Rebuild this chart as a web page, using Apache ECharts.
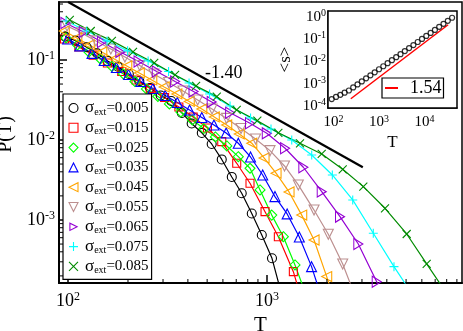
<!DOCTYPE html>
<html>
<head>
<meta charset="utf-8">
<script src="https://cdn.jsdelivr.net/npm/echarts@6/dist/echarts.min.js"></script>
<style>
  html, body { margin: 0; padding: 0; background: #fff; }
  #chart { width: 463px; height: 331px; }
</style>
</head>
<body>
<div id="chart"></div>
<script>
// sigma_ext values and their colours
var sigmas = ["0.005", "0.015", "0.025", "0.035", "0.045", "0.055", "0.065", "0.075", "0.085"];
var seriesColors = ["#000000", "#ff0000", "#00ff00", "#0000ff", "#ffa500", "#bc8f8f", "#9400d3", "#00ffff", "#008b00"];

// P(T) for each sigma_ext (T values, P values)
var t005 = [96.6, 109, 124, 140, 158, 178, 202, 228, 258, 292, 330, 373, 418, 470, 527, 592, 665, 746, 838, 941, 1059, 1190];
var p005 = [0.1955, 0.1743, 0.1441, 0.1213, 0.0972, 0.0824, 0.0668, 0.0546, 0.0447, 0.0360, 0.0307, 0.0218, 0.01608, 0.01224, 0.00891, 0.00571, 0.00345, 0.002157, 0.001206, 0.000649, 0.000332, 0.000112];

var t015 = [95.9, 113.2, 133.6, 157.6, 186, 219.4, 258.8, 305.5, 360.4, 425.3, 501.8, 592, 704, 821, 977, 1140, 1356, 1600];
var p015 = [0.183, 0.145, 0.115, 0.0917, 0.0718, 0.0562, 0.0440, 0.0340, 0.0258, 0.0194, 0.0141, 0.00952, 0.00511, 0.00288, 0.00127, 0.000618, 0.000226, 0.0000562];

var t025 = [97.5, 111.4, 127.2, 145.3, 166, 189.6, 216.6, 247.4, 282.7, 322.9, 368.8, 421, 481, 550, 628, 717, 821, 922, 1056, 1208, 1382, 1579];
var p025 = [0.188, 0.154, 0.126, 0.103, 0.0830, 0.0668, 0.0538, 0.0434, 0.0350, 0.0282, 0.0224, 0.0178, 0.0139, 0.0109, 0.00841, 0.00618, 0.00443, 0.00237, 0.00115, 0.000618, 0.000274, 0.000112];

var t035 = [99.4, 114.5, 131.9, 151.8, 174.9, 201.4, 232, 267, 307.6, 354, 408, 470, 541, 623, 717, 826, 951, 1096, 1262, 1453, 1674, 1927];
var p035 = [0.183, 0.150, 0.121, 0.0986, 0.0806, 0.0659, 0.0538, 0.0440, 0.0360, 0.0294, 0.0237, 0.0191, 0.0154, 0.0122, 0.00910, 0.00613, 0.00365, 0.00196, 0.00119, 0.000613, 0.000261, 0.0000891];

var t045 = [95.7, 110.6, 127.8, 147.7, 170.7, 197.2, 228, 263.4, 304, 352, 406.5, 470, 543, 627, 725, 838, 966, 1110, 1290, 1494, 1723, 1995, 2300];
var p045 = [0.230, 0.188, 0.154, 0.126, 0.103, 0.0841, 0.0688, 0.0562, 0.0460, 0.0376, 0.0303, 0.0244, 0.0194, 0.0154, 0.0119, 0.00910, 0.00596, 0.00384, 0.00224, 0.00115, 0.000562, 0.000196, 0.0000668];

var t055 = [98.8, 116.9, 138, 164, 193, 229, 270, 320, 378, 448, 529, 626, 740, 876, 1035, 1224, 1436, 1723, 2032, 2401, 2833];
var p055 = [0.266, 0.218, 0.173, 0.137, 0.109, 0.0854, 0.0668, 0.0523, 0.0410, 0.0316, 0.0244, 0.0186, 0.0139, 0.0103, 0.00735, 0.00473, 0.00274, 0.00133, 0.000663, 0.000282, 0.0000972];

var t065 = [96.9, 119.8, 148, 183, 226, 279, 345, 427, 527, 652, 821, 997, 1232, 1522, 1883, 2327, 2876, 3558, 4397];
var p065 = [0.290, 0.224, 0.168, 0.126, 0.0958, 0.0718, 0.0538, 0.0404, 0.0299, 0.0219, 0.0162, 0.0121, 0.00787, 0.00456, 0.00226, 0.00110, 0.000501, 0.000169, 0.0000422];

var t075 = [97.7, 123.9, 157, 199.1, 252.5, 319.9, 405.5, 514.1, 651.8, 826.3, 1047, 1331, 1677, 2129, 2696, 3421, 4346, 5512];
var p075 = [0.307, 0.230, 0.173, 0.130, 0.0972, 0.0718, 0.0516, 0.0376, 0.0266, 0.0188, 0.0137, 0.0100, 0.00649, 0.00365, 0.00178, 0.000682, 0.000261, 0.000107];

var t085 = [102, 130, 166, 212, 271, 345, 440, 559, 704, 894, 1140, 1465, 1883, 2401, 3048, 3917, 5035, 6346, 8027];
var p085 = [0.316, 0.230, 0.173, 0.126, 0.0917, 0.0649, 0.0473, 0.0348, 0.0237, 0.0174, 0.0123, 0.00909, 0.00668, 0.00430, 0.00261, 0.00140, 0.000668, 0.000282, 0.000119];

// guide line, slope -1.40
var tRef = [100, 3030];
var pRef = [0.53, 0.00455];

// inset: <s> versus T, and the 1.54 fit
var tInset = [91.3, 113.5, 141.1, 175.4, 218, 271, 336.9, 418.8, 520.6, 647.2, 804.5, 1000, 1243, 1545, 1921, 2388, 2968, 3690, 4587, 5702, 7088, 8811, 10950, 13620, 16930, 21030, 26150, 32500, 40400];
var sInset = [0.000209, 0.000260, 0.000324, 0.000404, 0.000504, 0.000688, 0.000940, 0.001285, 0.001755, 0.00240, 0.00328, 0.00448, 0.00612, 0.00836, 0.01142, 0.0156, 0.0213, 0.0291, 0.0398, 0.0544, 0.0743, 0.1016, 0.1387, 0.1896, 0.259, 0.354, 0.483, 0.661, 0.903];
var tFit = [240, 33000];
var sFit = [0.000215, 0.44];

// minor tick positions
var mainMinorT = [200, 300, 400, 500, 600, 700, 800, 900, 2000, 3000, 4000, 5000, 6000, 7000, 8000, 9000];
var mainMinorP = [0.0002, 0.0003, 0.0004, 0.0005, 0.0006, 0.0007, 0.0008, 0.0009,
                  0.002, 0.003, 0.004, 0.005, 0.006, 0.007, 0.008, 0.009,
                  0.02, 0.03, 0.04, 0.05, 0.06, 0.07, 0.08, 0.09, 0.2, 0.3, 0.4, 0.5];
var insetMinorT = [80, 90, 200, 300, 400, 500, 600, 700, 800, 900, 2000, 3000, 4000, 5000, 6000, 7000, 8000, 9000,
                   20000, 30000, 40000, 50000];
var insetMinorS = [0.00009, 0.0002, 0.0003, 0.0004, 0.0005, 0.0006, 0.0007, 0.0008, 0.0009,
                   0.002, 0.003, 0.004, 0.005, 0.006, 0.007, 0.008, 0.009,
                   0.02, 0.03, 0.04, 0.05, 0.06, 0.07, 0.08, 0.09,
                   0.2, 0.3, 0.4, 0.5, 0.6, 0.7, 0.8, 0.9];

var mainT = [t005, t015, t025, t035, t045, t055, t065, t075, t085];
var mainP = [p005, p015, p025, p035, p045, p055, p065, p075, p085];
var seriesSymbols = ["circle", "rect", "diamond", "triangle",
  "path://M0,5L10,0L10,10Z", "path://M0,0L10,0L5,10Z", "triangle",
  "path://M5,0L5,10M0,5L10,5", "path://M0,0L10,10M10,0L0,10"];
var symbolRotations = [0, 0, 0, 0, 0, 0, -90, 0, 0];
var symbolSizes = [9, 8, 10, 10, 10, 10, [11, 9], 9, 8];

var serif = "'Liberation Serif', 'DejaVu Serif', serif";
var axisRanges = [
  { xMin: 90, xMax: 9550, yMin: 0.000163, yMax: 0.53 },
  { xMin: 75.7, xMax: 51800, yMin: 0.000083, yMax: 1.81 }
];

var myChart = echarts.init(document.getElementById("chart"), null, { renderer: "canvas" });

function powLabel(v) {
  var l = Math.log10(v);
  var e = Math.round(l);
  if (Math.abs(l - e) > 1e-6) return "";
  return "{b|10}{s|" + e + "}";
}

function labelRich(big, small, lift) {
  return {
    b: { fontSize: big, fontFamily: serif, color: "#000" },
    s: { fontSize: small, fontFamily: serif, color: "#000", padding: [0, 0, lift, 0] }
  };
}

function pairs(xs, ys) {
  return xs.map(function (x, k) { return [x, ys[k]]; });
}

// draws minor ticks through the axis scales
function minorTicks(gi, dir, values, len) {
  var r = axisRanges[gi];
  var data = values.map(function (v) { return dir === "x" ? [v, r.yMin] : [r.xMin, v]; });
  return {
    type: "custom",
    xAxisIndex: gi,
    yAxisIndex: gi,
    silent: true,
    clip: false,
    z: 6,
    data: data,
    renderItem: function (params, api) {
      var p = api.coord([api.value(0), api.value(1)]);
      var q = dir === "x" ? [p[0], p[1] - len] : [p[0] + len, p[1]];
      return {
        type: "line",
        shape: { x1: p[0], y1: p[1], x2: q[0], y2: q[1] },
        style: { stroke: "#000", lineWidth: 1 }
      };
    }
  };
}

function makeAxis(gi, dir, opts) {
  var r = axisRanges[gi];
  return {
    type: "log",
    logBase: 10,
    gridIndex: gi,
    min: dir === "x" ? r.xMin : r.yMin,
    max: dir === "x" ? r.xMax : r.yMax,
    axisLine: { show: true, onZero: false, lineStyle: { color: "#000", width: opts.lineWidth } },
    axisTick: { show: true, inside: true, length: opts.tick, lineStyle: { color: "#000", width: 1.5 } },
    minorTick: { show: false },
    splitLine: { show: false },
    axisLabel: {
      formatter: powLabel,
      margin: opts.margin,
      showMinLabel: false,
      showMaxLabel: false,
      rich: labelRich(opts.font, opts.sup, opts.lift)
    },
    name: opts.name,
    nameLocation: "middle",
    nameGap: opts.nameGap,
    nameTextStyle: { fontFamily: serif, fontSize: opts.nameSize, color: "#000", padding: opts.namePad || 0 }
  };
}

var series = [];
for (var i = 0; i < sigmas.length; i++) {
  series.push({
    name: "σext=" + sigmas[i],
    type: "line",
    xAxisIndex: 0,
    yAxisIndex: 0,
    data: pairs(mainT[i], mainP[i]),
    symbol: seriesSymbols[i],
    symbolSize: symbolSizes[i],
    symbolRotate: symbolRotations[i],
    showAllSymbol: true,
    lineStyle: { color: seriesColors[i], width: 1.2 },
    itemStyle: { color: "rgba(0,0,0,0)", borderColor: seriesColors[i], borderWidth: 1.1 },
    clip: true,
    z: 3
  });
}
series.push({
  name: "-1.40",
  type: "line",
  xAxisIndex: 0,
  yAxisIndex: 0,
  data: pairs(tRef, pRef),
  symbol: "none",
  lineStyle: { color: "#000", width: 2.2 },
  clip: true,
  z: 2
});
series.push({
  name: "<s>",
  type: "scatter",
  xAxisIndex: 1,
  yAxisIndex: 1,
  data: pairs(tInset, sInset),
  symbol: "circle",
  symbolSize: 5,
  itemStyle: { color: "rgba(0,0,0,0)", borderColor: "#000", borderWidth: 1.2 },
  z: 8
});
series.push({
  name: "1.54",
  type: "line",
  xAxisIndex: 1,
  yAxisIndex: 1,
  data: pairs(tFit, sFit),
  symbol: "none",
  lineStyle: { color: "#ff0000", width: 1.5 },
  itemStyle: { color: "#ff0000" },
  z: 8
});
series.push(minorTicks(0, "x", mainMinorT, 4));
series.push(minorTicks(0, "y", mainMinorP, 4));
series.push(minorTicks(1, "x", insetMinorT, 3));
series.push(minorTicks(1, "y", insetMinorS, 3));

// legend entries: rotated markers take the series' own legend icon, with its line hidden
var legendEntries = sigmas.map(function (s, k) {
  var entry = {
    name: "σext=" + s,
    itemStyle: { color: "rgba(0,0,0,0)", borderColor: seriesColors[k], borderWidth: 1.1 }
  };
  if (symbolRotations[k] === 0) {
    entry.icon = seriesSymbols[k];
  } else {
    entry.lineStyle = { opacity: 0, color: "rgba(0,0,0,0)" };
  }
  return entry;
});

var option = {
  animation: false,
  backgroundColor: "#fff",
  grid: [
    { left: 59, top: 2, width: 403, height: 281, outerBoundsMode: "none", containLabel: false,
      show: true, borderColor: "#000", borderWidth: 1.5, backgroundColor: "rgba(0,0,0,0)" },
    { left: 328, top: 11, width: 129, height: 97, outerBoundsMode: "none", containLabel: false,
      show: true, borderColor: "#000", borderWidth: 1.5, backgroundColor: "#fff", z: 7 }
  ],
  xAxis: [
    makeAxis(0, "x", { lineWidth: 2, tick: 8, margin: 8, font: 18, sup: 12, lift: 9, name: "T", nameGap: 27, nameSize: 21 }),
    makeAxis(1, "x", { lineWidth: 1.5, tick: 5, margin: 6, font: 15, sup: 10, lift: 7, name: "T", nameGap: 26, nameSize: 17 })
  ],
  yAxis: [
    makeAxis(0, "y", { lineWidth: 2, tick: 8, margin: 4, font: 18, sup: 12, lift: 9, name: "P(T)", nameGap: 35, nameSize: 20, namePad: [0, 0, 0, 16] }),
    makeAxis(1, "y", { lineWidth: 1.5, tick: 5, margin: 2, font: 15, sup: 10, lift: 7, name: "<s>", nameGap: 34, nameSize: 17 })
  ],
  legend: [
    {
      data: legendEntries,
      orient: "vertical",
      left: 63,
      top: 94,
      itemWidth: 9,
      itemHeight: 9,
      itemGap: 1.8,
      padding: [5, 3, 4, 5],
      borderColor: "#000",
      borderWidth: 1.2,
      backgroundColor: "#fff",
      selectedMode: false,
      formatter: function (name) {
        return "{g|σ}{e|ext}{v|" + name.slice(4) + "}";
      },
      textStyle: {
        fontFamily: serif,
        color: "#000",
        rich: {
          g: { fontFamily: serif, fontSize: 17, lineHeight: 20.5, padding: [0, 0, 0, 2] },
          e: { fontFamily: serif, fontSize: 10, lineHeight: 20.5, padding: [8, 0, 0, 0] },
          v: { fontFamily: serif, fontSize: 15, lineHeight: 20.5 }
        }
      }
    },
    {
      data: [{ name: "1.54", icon: "rect", itemStyle: { color: "#ff0000", borderWidth: 0 } }],
      left: 382,
      top: 78,
      itemWidth: 13,
      itemHeight: 2,
      padding: [1, 2, 1, 3],
      borderColor: "#000",
      borderWidth: 1.2,
      backgroundColor: "#fff",
      selectedMode: false,
      z: 9,
      formatter: function (name) { return "{v|" + name + "}"; },
      textStyle: {
        rich: { v: { fontFamily: serif, fontSize: 18, color: "#000", padding: [0, 0, 0, 7] } }
      }
    }
  ],
  graphic: [
    { type: "text", left: 205, top: 64, style: { text: "-1.40", font: "18px 'Liberation Serif', serif", fill: "#000" } }
  ],
  series: series
};

myChart.setOption(option);
</script>
</body>
</html>
